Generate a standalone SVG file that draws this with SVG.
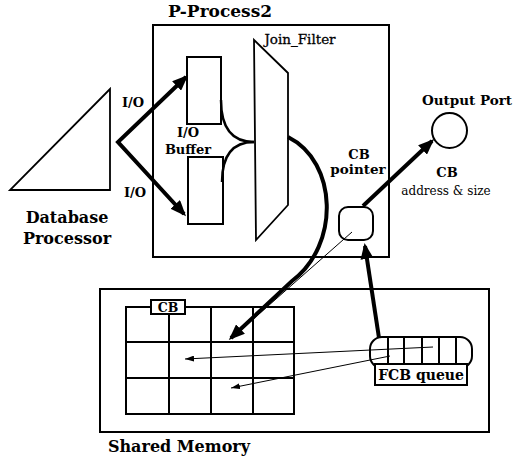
<svg xmlns="http://www.w3.org/2000/svg" width="523" height="460" viewBox="0 0 523 460">
<defs>
<style>
.t{font-family:"DejaVu Serif","Liberation Serif",serif;fill:#000}
.b{font-weight:bold}
.o{fill:none;stroke:#000}
.w{fill:#fff;stroke:#000}
.thick{fill:none;stroke:#000;stroke-width:4}
.thin{fill:none;stroke:#000;stroke-width:1}
</style>
<marker id="big" viewBox="0 0 16 13" refX="13" refY="6.5" markerWidth="16" markerHeight="13" markerUnits="userSpaceOnUse" orient="auto-start-reverse"><path d="M0,0 L16,6.5 L0,13 z" fill="#000"/></marker>
<marker id="small" viewBox="0 0 9 6" refX="9" refY="3" markerWidth="9" markerHeight="6" markerUnits="userSpaceOnUse" orient="auto"><path d="M0,0 L9,3 L0,6 z" fill="#000"/></marker>
</defs>
<rect width="523" height="460" fill="#fff"/>

<g id="database-processor">
<polygon class="o" stroke-width="1.8" points="10,190 110,190 110,89"/>
<text class="t b" x="67" y="223" font-size="16" text-anchor="middle">Database</text>
<text class="t b" x="67" y="244" font-size="16" text-anchor="middle">Processor</text>
</g>

<g id="p-process2">
<rect class="o" stroke-width="2" x="153" y="25" width="236" height="232"/>
<text class="t b" x="220" y="17" font-size="17" text-anchor="middle">P-Process2</text>
</g>

<g id="io-buffer-upper">
<rect class="o" stroke-width="2" x="187" y="57" width="34" height="67"/>
</g>
<g id="io-buffer-lower">
<rect class="o" stroke-width="2" x="188" y="157" width="35" height="67"/>
<text class="t b" x="188" y="137" font-size="13" text-anchor="middle">I/O</text>
<text class="t b" x="188" y="154" font-size="13" text-anchor="middle">Buffer</text>
</g>

<g id="join-filter">
<polygon class="o" stroke-width="1.8" points="254,40 288,73 288,205 256,240"/>
<text class="t" x="300" y="44" font-size="13.5" text-anchor="middle" stroke="#000" stroke-width="0.3">Join_Filter</text>
</g>

<g id="cb-pointer">
<rect class="o" stroke-width="2" x="339" y="207" width="34" height="33" rx="9"/>
<text class="t b" x="359" y="159" font-size="13" text-anchor="middle">CB</text>
<text class="t b" x="358" y="174" font-size="13.5" text-anchor="middle">pointer</text>
</g>

<g id="output-port">
<circle class="o" stroke-width="2" cx="449.5" cy="130.5" r="17.5"/>
<text class="t b" x="467" y="105" font-size="13.5" text-anchor="middle">Output Port</text>
</g>

<g id="shared-memory">
<rect class="o" stroke-width="2" x="100" y="289" width="389" height="143"/>
<text class="t b" x="179" y="452" font-size="16" text-anchor="middle">Shared Memory</text>
</g>

<g id="cb-grid">
<rect class="o" stroke-width="2" x="126" y="307" width="168" height="107"/>
<path class="o" stroke-width="2" d="M169,307 V414 M211,307 V414 M253,307 V414 M126,342 H294 M126,378 H294"/>
<rect class="w" stroke-width="2" x="151" y="300" width="34" height="14"/>
<text class="t b" x="168" y="311.5" font-size="12.5" text-anchor="middle">CB</text>
</g>

<g id="fcb-queue">
<rect class="w" stroke-width="2" x="370" y="337" width="102" height="31" rx="12"/>
<path class="o" stroke-width="2" d="M388,337 V368 M404,337 V368 M422,337 V368 M439,337 V368 M456,337 V368"/>
<rect class="w" stroke-width="2" x="375" y="364" width="92" height="21"/>
<text class="t b" x="421" y="379.5" font-size="14" text-anchor="middle">FCB queue</text>
</g>

<g id="connectors">
<polyline class="thick" stroke-linejoin="miter" points="186,77 118,142 184,214" marker-start="url(#big)" marker-end="url(#big)"/>
<path class="o" stroke-width="2.5" d="M221,100 Q221,142 254,142"/>
<path class="o" stroke-width="2.5" d="M222,182 Q222,142 254,142"/>
<path class="thick" d="M288,137 C338,162 340,245 292,281 L231,338" marker-end="url(#big)"/>
<line class="thin" x1="352" y1="232" x2="234" y2="336"/>
<line class="thick" x1="363" y1="206" x2="432" y2="141" marker-end="url(#big)"/>
<line class="thick" x1="379" y1="338" x2="365" y2="246" marker-end="url(#big)"/>
<line class="thin" x1="433" y1="347" x2="185" y2="359" marker-end="url(#small)"/>
<line class="thin" x1="390" y1="356" x2="231" y2="388" marker-end="url(#small)"/>
</g>

<g id="labels">
<text class="t b" x="133" y="107" font-size="13" text-anchor="middle">I/O</text>
<text class="t b" x="135" y="197" font-size="13" text-anchor="middle">I/O</text>
<text class="t b" x="447" y="177" font-size="13" text-anchor="middle">CB</text>
<text class="t" x="446" y="195" font-size="12" text-anchor="middle">address &amp; size</text>
</g>
</svg>
